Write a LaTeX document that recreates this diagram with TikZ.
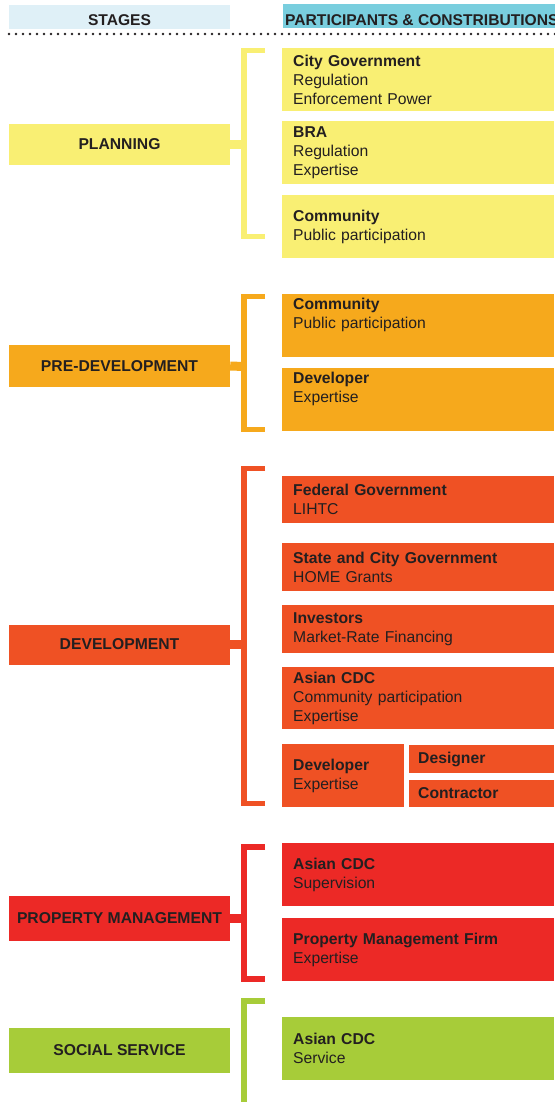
\documentclass[tikz,border=0pt]{standalone}
\usepackage{fontspec}
\setmainfont{Liberation Sans}
\usetikzlibrary{positioning,calc}
\definecolor{ink}{RGB}{35,31,32}
\definecolor{hdlight}{RGB}{223,240,247}
\definecolor{hdcyan}{RGB}{121,206,222}
\definecolor{plancol}{RGB}{249,239,115}
\definecolor{predcol}{RGB}{246,169,28}
\definecolor{devcol}{RGB}{239,81,36}
\definecolor{pmcol}{RGB}{236,41,38}
\definecolor{soccol}{RGB}{167,204,57}
\tikzset{
  stagebox/.style={
    fill=#1,
    minimum width=221pt,
    minimum height=41pt,
    inner sep=0pt,
    text=ink,
    font=\fontsize{15.7}{19}\selectfont\bfseries
  },
  party/.style={
    fill=#1,
    anchor=west,
    minimum width=272pt,
    minimum height=63pt,
    text width=250pt,
    inner xsep=11pt,
    inner ysep=0pt,
    align=left,
    text=ink,
    font=\fontsize{15.7}{19}\selectfont
  },
  headbox/.style={fill=#1, minimum height=24pt, inner ysep=0pt, text depth=0pt,
    text=ink, font=\fontsize{15.6}{18}\selectfont\bfseries},
  link/.style={draw=#1, line width=9pt},
  brace/.style={draw=#1, line width=5.5pt},
  dotrule/.style={draw=ink, line width=2.8pt, line cap=round, dash pattern=on 0pt off 7pt}
}
\newcommand{\who}[2]{\textbf{#1}\\#2}

\begin{document}
\begin{tikzpicture}[x=1pt, y=-1pt]
  \useasboundingbox (0,0) rectangle (554,1102);
  % header
  \node[headbox=hdlight, minimum width=221pt, text height=16.2pt] (stagehd) at (119.5,17) {STAGES};
  \node[headbox=hdcyan, anchor=west, inner xsep=2pt, text height=18.2pt] (parthd) at (283,16) {PARTICIPANTS \& CONSTRIBUTIONS};
  \coordinate (ruleL) at (9,34);
  \coordinate (ruleR) at (556,34);
  \draw[dotrule] (ruleL) -- (ruleR);

  % planning
  \node[stagebox=plancol] (plan) at (119.5,144.5) {PLANNING};
  \coordinate (plan-top) at (265,50.5);
  \coordinate (plan-spine) at (244,144.5);
  \coordinate (plan-bot) at (265,236.5);
  \draw[link=plancol] (plan.east) -- (plan-spine);
  \draw[brace=plancol] (plan-top) -| (plan-spine) |- (plan-bot);
  \node[party=plancol] (cityg) at (282,79.5) {\who{City Government}{Regulation\\Enforcement Power}};
  \node[party=plancol] (bra) at (282,152.5) {\who{BRA}{Regulation\\Expertise}};
  \node[party=plancol] (comma) at (282,226.5) {\who{Community}{Public participation}};

  % pre-development
  \node[stagebox=predcol, minimum height=42pt] (pred) at (119.5,366) {PRE-DEVELOPMENT};
  \coordinate (pred-top) at (265,296.5);
  \coordinate (pred-spine) at (244,366.5);
  \coordinate (pred-bot) at (265,429.5);
  \draw[link=predcol] (pred.east) -- (pred-spine);
  \draw[brace=predcol] (pred-top) -| (pred-spine) |- (pred-bot);
  \node[party=predcol] (commb) at (282,325.5) {\who{Community}{Public participation\\\strut}};
  \node[party=predcol] (devlb) at (282,399.5) {\who{Developer}{Expertise\\\strut}};

  % development
  \node[stagebox=devcol, minimum height=40pt] (dev) at (119.5,644.5) {DEVELOPMENT};
  \coordinate (dev-top) at (265,468.5);
  \coordinate (dev-spine) at (244,644.5);
  \coordinate (dev-bot) at (265,803.5);
  \draw[link=devcol] (dev.east) -- (dev-spine);
  \draw[brace=devcol] (dev-top) -| (dev-spine) |- (dev-bot);
  \node[party=devcol, minimum height=47pt] (fed) at (282,499.5) {\who{Federal Government}{LIHTC}};
  \node[party=devcol, minimum height=48pt] (state) at (282,567) {\who{State and City Government}{HOME Grants}};
  \node[party=devcol, minimum height=48pt] (invest) at (282,629) {\who{Investors}{Market-Rate Financing}};
  \node[party=devcol, minimum height=62pt] (cdca) at (282,698) {\who{Asian CDC}{Community participation\\Expertise}};
  \node[party=devcol, minimum width=122pt, text width=100pt] (devlc) at (282,775.5) {\who{Developer}{Expertise}};
  \node[party=devcol, minimum width=145pt, text width=127pt, inner xsep=9pt, minimum height=28pt] (design) at (409,759) {\textbf{Designer}};
  \node[party=devcol, minimum width=145pt, text width=127pt, inner xsep=9pt, minimum height=27pt] (contr) at (409,793.5) {\textbf{Contractor}};

  % property management
  \node[stagebox=pmcol, minimum height=45pt] (pm) at (119.5,918.5) {PROPERTY MANAGEMENT};
  \coordinate (pm-top) at (265,847);
  \coordinate (pm-spine) at (244,918.5);
  \coordinate (pm-bot) at (265,979);
  \draw[link=pmcol] (pm.east) -- (pm-spine);
  \draw[brace=pmcol] (pm-top) -| (pm-spine) |- (pm-bot);
  \node[party=pmcol] (cdcb) at (282,874.5) {\who{Asian CDC}{Supervision}};
  \node[party=pmcol] (pmf) at (282,949.5) {\who{Property Management Firm}{Expertise}};

  % social service
  \node[stagebox=soccol, minimum height=45pt] (soc) at (119.5,1050.5) {SOCIAL SERVICE};
  \coordinate (soc-top) at (265,1001);
  \coordinate (soc-spine) at (244,1050.5);
  \coordinate (soc-bot) at (265,1104.5);
  \draw[brace=soccol] (soc-top) -| (soc-spine) |- (soc-bot);
  \node[party=soccol] (cdcc) at (282,1048.5) {\who{Asian CDC}{Service}};
\end{tikzpicture}
\end{document}
